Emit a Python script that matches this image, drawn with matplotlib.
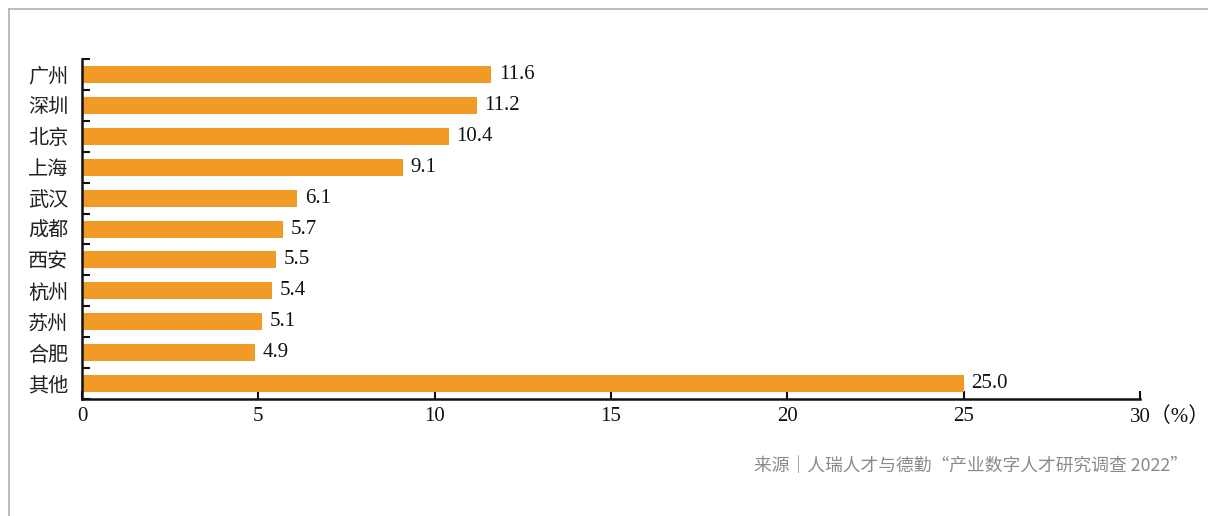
import matplotlib
matplotlib.use("Agg")
import matplotlib.pyplot as plt
from matplotlib.lines import Line2D
import numpy as np

# City share of digital talent (%)
cities = ["广州", "深圳", "北京", "上海", "武汉", "成都", "西安", "杭州", "苏州", "合肥", "其他"]
shares = [11.6, 11.2, 10.4, 9.1, 6.1, 5.7, 5.5, 5.4, 5.1, 4.9, 25.0]
x_ticks = [0, 5, 10, 15, 20, 25, 30]
source_note = "来源｜人瑞人才与德勤“产业数字人才研究调查 2022”"
unit_label = "（%）"

BAR_COLOR = "#F29A26"
SERIF = ["Liberation Serif", "Noto Sans CJK SC"]
CJK = ["Noto Sans CJK SC", "DejaVu Sans"]

fig = plt.figure(figsize=(12.08, 5.16), dpi=100)
ax = fig.add_axes([82 / 1208, 1 - 399 / 516, (1140 - 82) / 1208, (399 - 59) / 516])

y = np.arange(len(cities))
ax.barh(y, shares, height=0.55, color=BAR_COLOR, zorder=2)

for yi, v in zip(y, shares):
    ax.annotate(f"{v:.1f}", xy=(v, yi), xytext=(5.5, 0), textcoords="offset points",
                va="center", ha="left", fontsize=15, family=SERIF, color="#111111")

ax.set_xlim(0, 30)
ax.set_ylim(len(cities) - 0.5, -0.5)

# the last tick carries the unit, written as one label further below
ax.set_xticks(x_ticks)
ax.set_xticklabels([str(t) for t in x_ticks[:-1]] + [""], family=SERIF, fontsize=15)
ax.tick_params(axis="x", direction="in", length=6, width=1.5, pad=6, colors="#111111")

# category labels at the bar centres, short brackets at band edges
ax.set_yticks(y)
ax.set_yticklabels(cities, family=CJK, fontsize=14.5, color="#222222")
ax.tick_params(axis="y", which="major", length=0, pad=10)
ax.set_yticks(np.arange(-0.5, len(cities), 1.0), minor=True)
ax.tick_params(axis="y", which="minor", direction="in", length=6, width=1.5, color="#111111")

for side in ("top", "right"):
    ax.spines[side].set_visible(False)
for side in ("left", "bottom"):
    ax.spines[side].set_linewidth(1.8)
    ax.spines[side].set_color("#111111")

# "30" centred on its tick, followed by the unit
ax.annotate(f"{x_ticks[-1]}{unit_label}", xy=(x_ticks[-1], 0), xycoords=("data", "axes fraction"),
            xytext=(-7.5, -6), textcoords="offset points", ha="left", va="top",
            fontsize=15, family=SERIF, color="#111111")

fig.text(754 / 1208, 1 - 466 / 516, source_note, ha="left", va="center",
         fontsize=12.8, family=CJK, color="#8a8a8a")

# frame lines along the top and left edges
fig.add_artist(Line2D([9 / 1208, 1.0], [1 - 9 / 516, 1 - 9 / 516],
                      transform=fig.transFigure, color="#b0b0b0", linewidth=1.2))
fig.add_artist(Line2D([9 / 1208, 9 / 1208], [0, 1 - 9 / 516],
                      transform=fig.transFigure, color="#b0b0b0", linewidth=1.2))

fig.savefig("out.png", dpi=100)
